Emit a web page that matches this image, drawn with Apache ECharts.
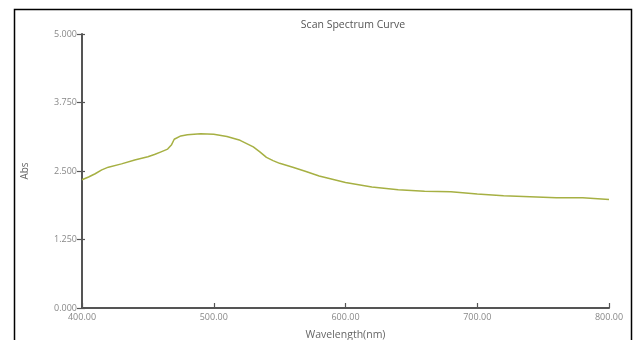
<!DOCTYPE html>
<html>
<head>
<meta charset="utf-8">
<script src="https://cdn.jsdelivr.net/npm/echarts@6/dist/echarts.min.js"></script>
<style>html,body{margin:0;padding:0;background:#fff}#c{width:637px;height:340px}</style>
</head>
<body>
<div id="c"></div>
<script>
const wavelengths = [400,405,410,415,420,430,440,450,455,460,465,468,470,475,480,490,500,510,520,530,535,540,545,550,560,570,580,590,600,620,640,660,680,700,720,740,760,780,800];
const absValues = [2.34,2.39,2.45,2.52,2.57,2.63,2.70,2.76,2.80,2.85,2.90,2.98,3.08,3.14,3.16,3.18,3.17,3.13,3.06,2.94,2.85,2.75,2.69,2.64,2.57,2.49,2.41,2.35,2.29,2.21,2.16,2.13,2.12,2.08,2.05,2.03,2.01,2.01,1.98];
const xTicks = [400,500,600,700,800];
const yTicks = [0,1.25,2.5,3.75,5];
const titleText = 'Scan Spectrum Curve';
const xName = 'Wavelength(nm)';
const yName = 'Abs';

const chart = echarts.init(document.getElementById('c'));
const data = wavelengths.map((w,i)=>[w,absValues[i]]);
const font = 'Open Sans';
chart.setOption({
  animation:false,
  backgroundColor:'#fff',
  graphic:[{type:'rect',shape:{x:14.5,y:9.5,width:617,height:340},style:{fill:'none',stroke:'#000',lineWidth:1.5},silent:true}],
  title:{text:titleText,left:348,top:15,textAlign:'center',textStyle:{fontSize:10.5,fontWeight:'normal',color:'#555',fontFamily:font}},
  grid:{left:82,right:28,top:34,bottom:32,outerBoundsMode:'none',containLabel:false},
  xAxis:{type:'value',min:xTicks[0],max:xTicks[xTicks.length-1],interval:100,
    name:xName,nameLocation:'middle',nameGap:22,nameTextStyle:{fontSize:10.5,color:'#666',fontFamily:font},
    axisLine:{lineStyle:{color:'#555',width:2}},
    axisTick:{inside:true,length:5,lineStyle:{color:'#555',width:1.2}},
    axisLabel:{fontSize:9,color:'#888',margin:5,fontFamily:font,formatter:v=>v.toFixed(2)},
    splitLine:{show:false}},
  yAxis:[{type:'value',min:yTicks[0],max:yTicks[yTicks.length-1],interval:1.25,
    name:yName,nameLocation:'middle',nameGap:52,nameRotate:90,nameTextStyle:{fontSize:10,color:'#666',fontFamily:font},
    axisLine:{show:true,lineStyle:{color:'#555',width:2}},
    axisTick:{show:true,length:5,lineStyle:{color:'#555',width:1.2}},
    axisLabel:{fontSize:9,color:'#888',margin:5,fontFamily:font,formatter:v=>v.toFixed(3)},
    splitLine:{show:false}},
   {type:'value',position:'left',min:yTicks[0],max:yTicks[yTicks.length-1],interval:1.25,
    axisLine:{show:false},axisTick:{show:true,inside:true,length:3,lineStyle:{color:'#555',width:1.2}},
    axisLabel:{show:false},splitLine:{show:false}}],
  series:[{type:'line',data:data,showSymbol:false,smooth:false,
    lineStyle:{color:'#a6b043',width:1.5}}]
});
</script>
</body>
</html>
